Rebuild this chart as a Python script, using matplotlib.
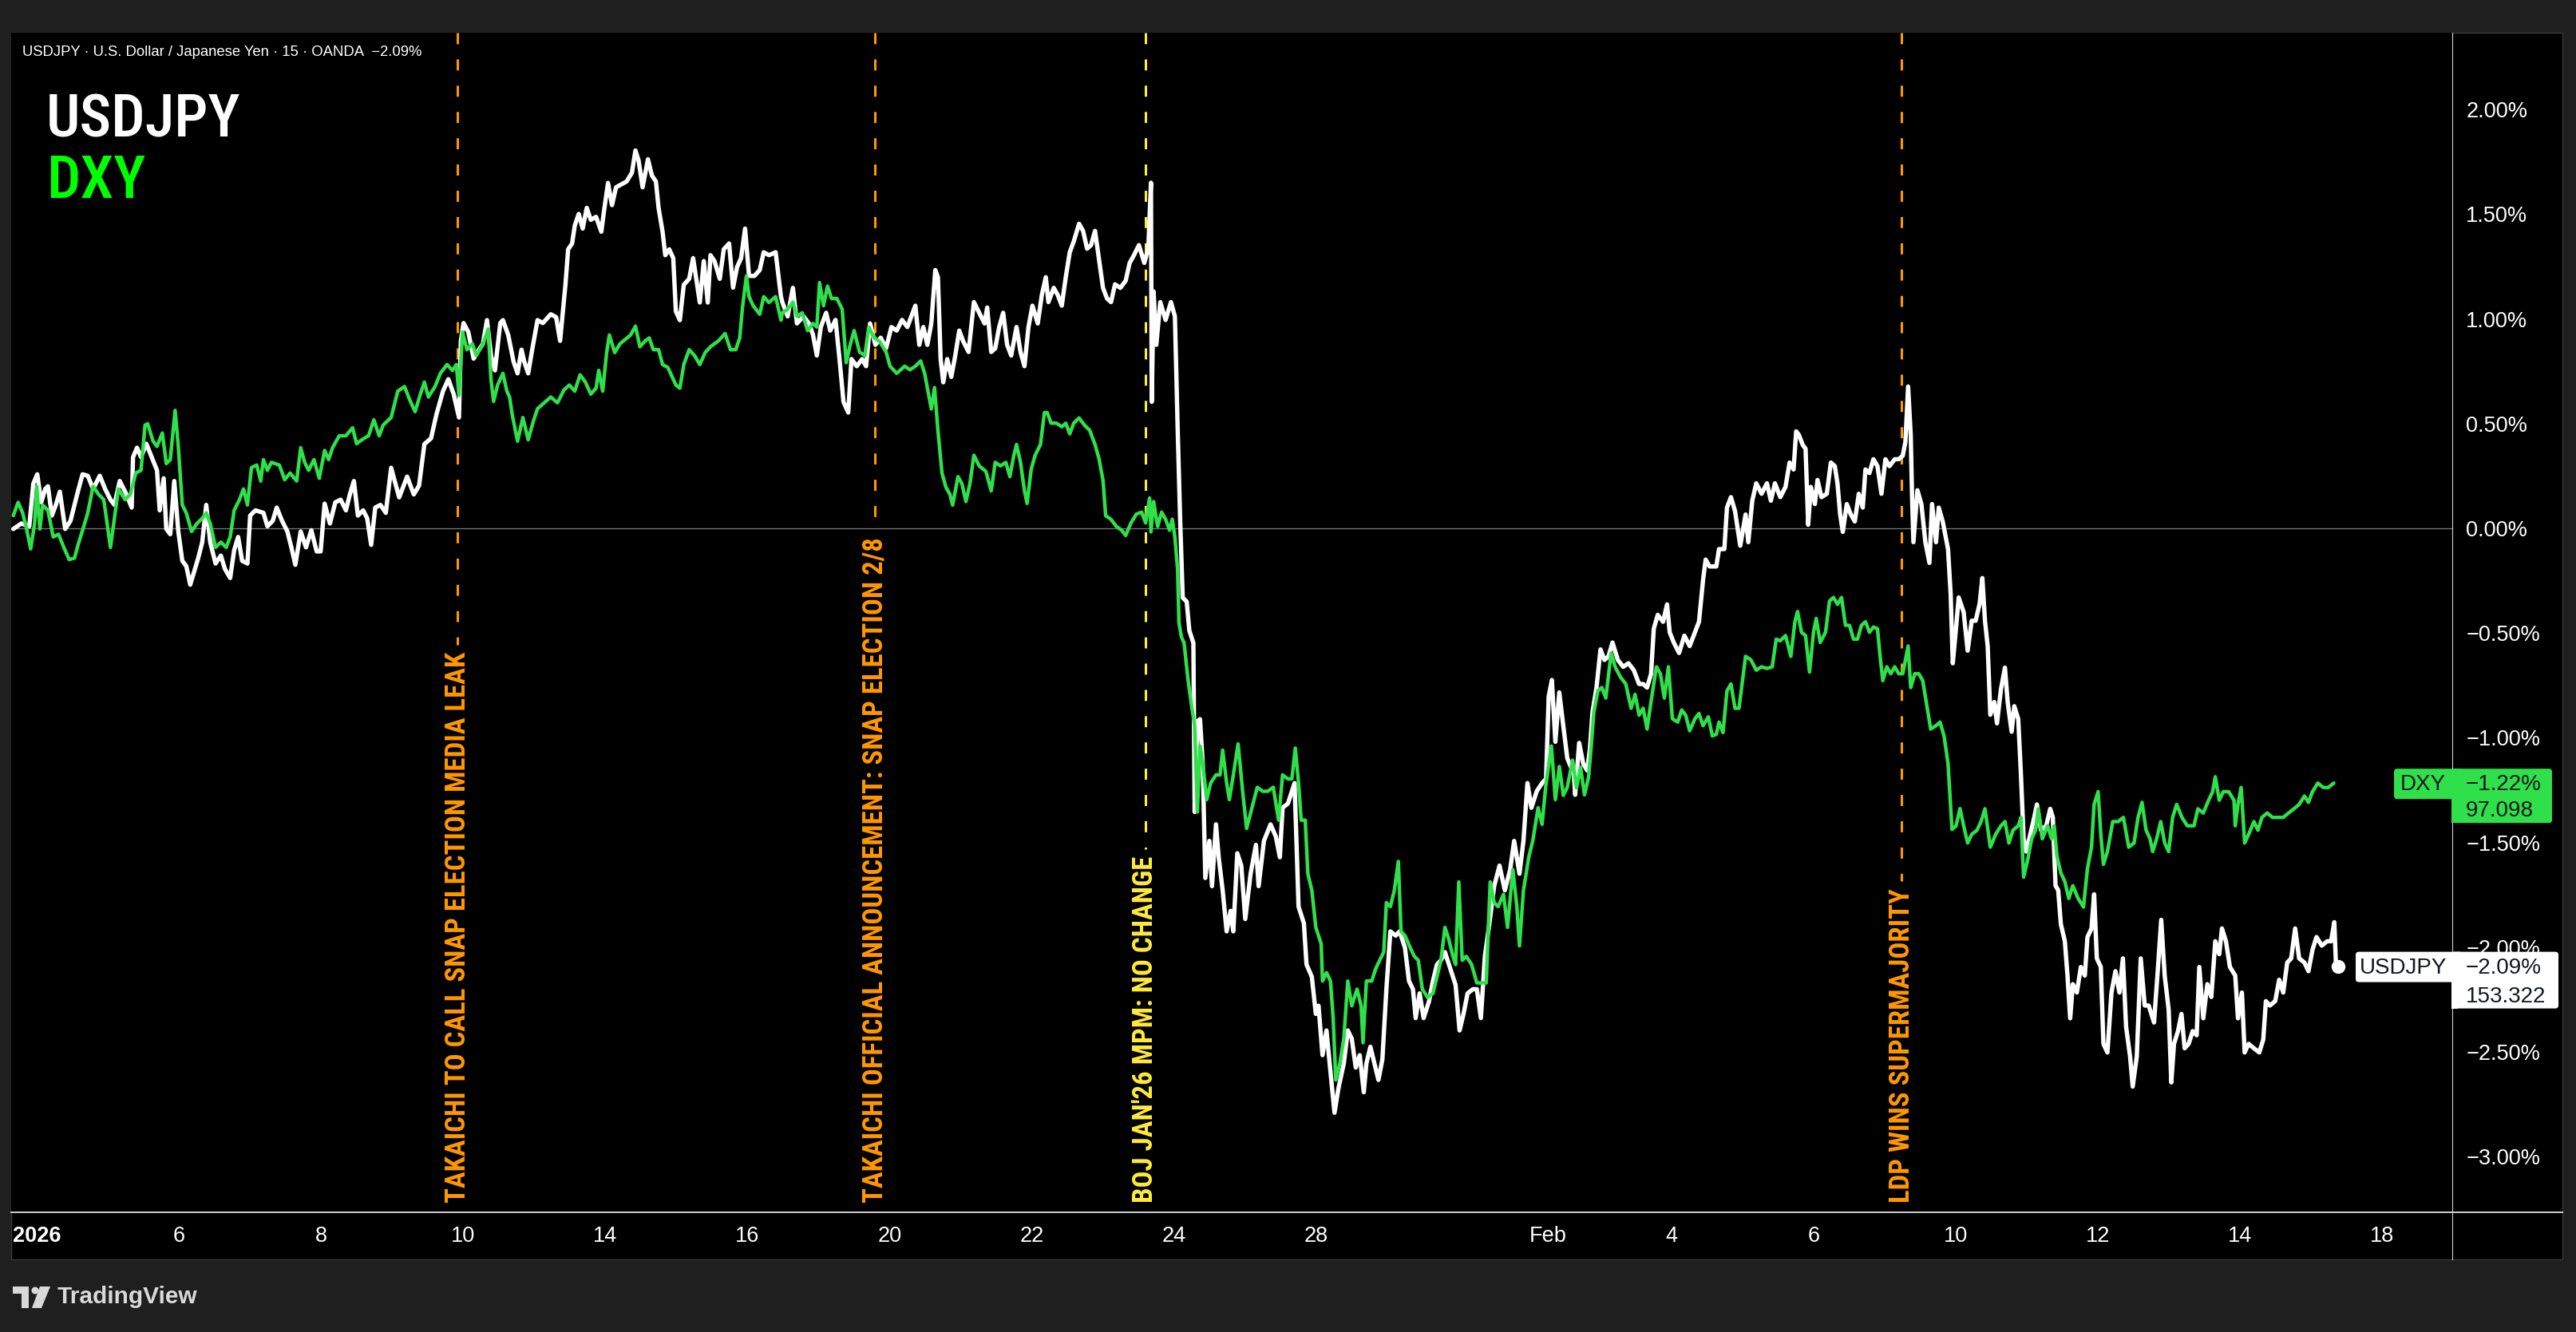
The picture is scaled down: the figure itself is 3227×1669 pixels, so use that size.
import numpy as np
import matplotlib
matplotlib.use("Agg")
import matplotlib.pyplot as plt
from matplotlib.patches import Rectangle, FancyBboxPatch, Polygon, Circle
from matplotlib.transforms import IdentityTransform, blended_transform_factory

plt.rcParams['lines.scale_dashes'] = False
plt.rcParams['font.family'] = ['Liberation Sans', 'DejaVu Sans']
COND = ['Roboto Condensed', 'Liberation Sans Narrow', 'DejaVu Sans']

W, H, DPI = 3227, 1669, 100

# ---------------- data (x = trading-day index since 2 Jan 2026, y = % change) -------------
usdjpy_points = [
    (-0.333, -0.003), (-0.221, 0.023), (-0.108, 0.010), (-0.052, 0.213), (0.004, 0.258), (0.060, 0.124),
    (0.116, 0.188), (0.154, 0.201), (0.210, 0.061), (0.266, 0.112), (0.322, 0.175), (0.397, -0.003),
    (0.472, 0.036), (0.566, 0.163), (0.641, 0.258), (0.715, 0.251), (0.790, 0.188), (0.884, 0.251),
    (0.959, 0.188), (1.034, 0.137), (1.090, 0.112), (1.165, 0.226), (1.258, 0.163), (1.333, 0.099),
    (1.352, 0.340), (1.408, 0.385), (1.464, 0.340), (1.539, 0.404), (1.614, 0.340), (1.689, 0.277),
    (1.727, 0.086), (1.783, 0.239), (1.820, -0.003), (1.876, -0.028), (1.932, 0.226), (1.989, -0.015),
    (2.045, -0.155), (2.101, -0.180), (2.157, -0.269), (2.213, -0.206), (2.269, -0.142), (2.326, -0.066),
    (2.382, 0.112), (2.438, -0.066), (2.513, -0.168), (2.588, -0.130), (2.644, -0.193), (2.719, -0.237),
    (2.775, -0.104), (2.831, -0.041), (2.887, -0.155), (2.962, -0.168), (3.000, 0.061), (3.075, 0.086),
    (3.187, 0.074), (3.243, 0.010), (3.318, 0.036), (3.374, 0.099), (3.449, 0.036), (3.524, -0.015),
    (3.580, -0.091), (3.636, -0.174), (3.711, -0.015), (3.786, -0.091), (3.861, -0.009), (3.936, -0.110),
    (3.992, -0.110), (4.048, 0.118), (4.123, 0.023), (4.198, 0.124), (4.273, 0.137), (4.348, 0.086),
    (4.404, 0.163), (4.460, 0.226), (4.516, 0.061), (4.591, 0.086), (4.647, 0.048), (4.703, -0.079),
    (4.760, 0.099), (4.834, 0.112), (4.909, 0.074),
    (4.984, 0.289), (5.097, 0.148), (5.209, 0.247), (5.303, 0.162), (5.377, 0.204), (5.452, 0.402),
    (5.546, 0.430), (5.621, 0.543), (5.714, 0.655), (5.789, 0.712), (5.864, 0.641), (5.939, 0.529),
    (5.965, 0.895), (6.003, 0.980), (6.070, 0.937), (6.145, 0.810), (6.220, 0.853), (6.276, 0.881),
    (6.333, 0.994), (6.389, 0.825), (6.445, 0.754), (6.520, 0.980), (6.557, 0.994), (6.632, 0.923),
    (6.707, 0.796), (6.763, 0.740), (6.819, 0.853), (6.857, 0.796), (6.913, 0.740), (6.969, 0.853),
    (7.044, 0.994), (7.119, 0.980), (7.231, 1.022), (7.306, 1.008), (7.362, 0.895), (7.437, 1.163),
    (7.475, 1.332), (7.531, 1.360), (7.568, 1.445), (7.624, 1.501), (7.680, 1.431), (7.737, 1.530),
    (7.793, 1.473), (7.868, 1.487), (7.942, 1.416), (7.980, 1.515), (8.036, 1.649), (8.092, 1.543),
    (8.149, 1.628), (8.224, 1.642), (8.298, 1.656), (8.373, 1.698), (8.422, 1.804), (8.467, 1.755),
    (8.523, 1.628), (8.598, 1.762), (8.654, 1.684), (8.710, 1.656), (8.748, 1.529), (8.804, 1.416),
    (8.842, 1.304), (8.898, 1.332), (8.954, 1.290), (8.991, 1.036), (9.047, 0.994), (9.103, 1.163),
    (9.178, 1.191), (9.234, 1.290), (9.291, 1.163), (9.328, 1.078), (9.384, 1.276), (9.440, 1.078),
    (9.478, 1.304), (9.534, 1.276), (9.609, 1.191), (9.665, 1.332), (9.740, 1.360), (9.796, 1.149),
    (9.852, 1.247), (9.909, 1.290), (9.965, 1.431), (10.021, 1.205), (10.096, 1.205), (10.171, 1.233),
    (10.227, 1.318), (10.301, 1.304), (10.395, 1.318), (10.470, 1.106),
    (10.489, 1.080), (10.564, 1.012), (10.638, 1.148), (10.695, 0.978), (10.788, 1.012), (10.863, 0.978),
    (10.919, 0.927), (10.975, 0.825), (11.031, 0.961), (11.106, 1.029), (11.163, 0.944), (11.238, 0.995),
    (11.294, 0.808), (11.350, 0.604), (11.417, 0.553), (11.462, 0.808), (11.537, 0.774), (11.612, 0.808),
    (11.668, 0.774), (11.724, 0.978), (11.799, 0.876), (11.874, 0.910), (11.949, 0.859), (12.024, 0.961),
    (12.099, 0.944), (12.174, 0.995), (12.249, 0.961), (12.323, 1.029), (12.361, 1.063), (12.417, 0.876),
    (12.473, 0.961), (12.530, 0.876), (12.586, 0.978), (12.642, 1.233), (12.679, 1.199), (12.717, 0.808),
    (12.754, 0.697), (12.810, 0.808), (12.867, 0.723), (12.923, 0.825), (12.979, 0.944), (13.035, 0.893),
    (13.110, 0.842), (13.185, 1.080), (13.260, 1.029), (13.335, 0.978), (13.372, 1.054), (13.429, 0.842),
    (13.485, 0.859), (13.541, 0.961), (13.597, 1.029), (13.653, 0.876), (13.710, 0.825), (13.785, 0.961),
    (13.841, 0.842), (13.897, 0.774), (13.953, 0.961), (14.009, 1.063), (14.084, 0.978), (14.141, 1.114),
    (14.197, 1.199), (14.234, 1.080), (14.309, 1.148), (14.365, 1.114), (14.422, 1.063), (14.478, 1.199),
    (14.534, 1.318), (14.590, 1.369), (14.665, 1.454), (14.722, 1.420), (14.778, 1.335), (14.834, 1.352),
    (14.890, 1.420), (14.946, 1.284), (15.002, 1.148), (15.059, 1.097), (15.115, 1.080), (15.171, 1.165),
    (15.246, 1.148), (15.321, 1.182), (15.377, 1.267), (15.433, 1.301), (15.508, 1.352), (15.583, 1.267),
    (15.639, 1.335), (15.677, 1.650), (15.688, 0.604), (15.714, 1.131), (15.752, 0.876), (15.808, 1.080),
    (15.883, 0.995), (15.958, 1.080), (16.014, 1.012), (16.052, 0.485), (16.089, 0.026),
    (16.124, -0.331), (16.180, -0.350), (16.217, -0.488), (16.274, -0.547), (16.292, -1.354), (16.330, -0.921),
    (16.367, -0.911), (16.405, -1.118), (16.442, -1.669), (16.499, -1.492), (16.536, -1.708), (16.592, -1.413),
    (16.630, -1.570), (16.686, -1.728), (16.742, -1.924), (16.798, -1.826), (16.836, -1.924), (16.892, -1.551),
    (16.948, -1.610), (17.004, -1.865), (17.079, -1.649), (17.154, -1.511), (17.192, -1.708), (17.267, -1.492),
    (17.360, -1.413), (17.435, -1.472), (17.491, -1.570), (17.529, -1.334), (17.604, -1.314), (17.698, -1.216),
    (17.754, -1.806), (17.829, -1.885), (17.866, -2.082), (17.941, -2.141), (17.997, -2.318), (18.035, -2.279),
    (18.091, -2.515), (18.147, -2.397), (18.203, -2.594), (18.260, -2.790), (18.316, -2.672), (18.391, -2.554),
    (18.447, -2.397), (18.503, -2.436), (18.559, -2.574), (18.615, -2.515), (18.672, -2.692), (18.709, -2.554),
    (18.765, -2.475), (18.821, -2.554), (18.878, -2.633), (18.934, -2.534), (18.990, -2.200), (19.046, -1.924),
    (19.121, -1.944), (19.177, -1.924), (19.252, -2.003), (19.308, -2.161), (19.364, -2.200), (19.402, -2.338),
    (19.458, -2.220), (19.514, -2.338), (19.589, -2.259), (19.645, -2.161), (19.702, -2.082), (19.758, -2.062),
    (19.814, -2.023), (19.889, -2.102), (19.964, -2.180), (20.020, -2.397), (20.076, -2.318), (20.132, -2.220),
    (20.207, -2.200), (20.263, -2.200), (20.320, -2.338), (20.376, -2.043), (20.432, -1.905), (20.507, -1.708),
    (20.582, -1.610), (20.657, -1.728), (20.732, -1.629), (20.788, -1.492), (20.863, -1.649), (20.919, -1.492),
    (20.975, -1.216), (21.031, -1.334), (21.106, -1.255), (21.181, -1.216), (21.237, -1.196), (21.274, -0.803),
    (21.319, -0.724), (21.368, -1.019), (21.423, -0.783), (21.479, -0.941), (21.536, -1.098),
    (21.628, -1.173), (21.647, -1.272), (21.703, -1.024), (21.760, -1.123), (21.816, -1.156), (21.853, -1.057),
    (21.891, -0.876), (21.947, -0.760), (22.003, -0.578), (22.059, -0.628), (22.116, -0.611), (22.172, -0.545),
    (22.247, -0.628), (22.322, -0.661), (22.397, -0.644), (22.472, -0.677), (22.546, -0.743), (22.603, -0.743),
    (22.659, -0.760), (22.715, -0.694), (22.753, -0.479), (22.809, -0.413), (22.884, -0.446), (22.940, -0.363),
    (22.977, -0.496), (23.034, -0.545), (23.109, -0.595), (23.184, -0.512), (23.258, -0.562), (23.333, -0.496),
    (23.389, -0.446), (23.446, -0.248), (23.483, -0.149), (23.539, -0.182), (23.633, -0.182), (23.671, -0.099),
    (23.746, -0.099), (23.783, 0.099), (23.839, 0.149), (23.896, 0.083), (23.970, -0.083), (24.045, 0.066),
    (24.083, -0.066), (24.139, 0.132), (24.195, 0.215), (24.270, 0.165), (24.345, 0.215), (24.401, 0.132),
    (24.458, 0.215), (24.533, 0.149), (24.607, 0.198), (24.664, 0.314), (24.720, 0.281), (24.757, 0.463),
    (24.795, 0.446), (24.851, 0.397), (24.889, 0.380), (24.926, 0.017), (24.963, 0.198), (25.020, 0.116),
    (25.057, 0.231), (25.113, 0.149), (25.188, 0.165), (25.245, 0.314), (25.301, 0.297), (25.338, 0.215),
    (25.376, 0.066), (25.413, -0.017), (25.469, 0.116), (25.526, 0.066), (25.582, 0.033), (25.638, 0.165),
    (25.694, 0.099), (25.732, 0.281), (25.788, 0.264), (25.844, 0.330), (25.901, 0.297), (25.957, 0.165),
    (26.013, 0.330), (26.069, 0.297), (26.144, 0.330), (26.201, 0.330), (26.257, 0.347), (26.294, 0.413),
    (26.332, 0.677), (26.369, 0.446), (26.388, 0.149), (26.407, -0.066), (26.463, 0.182), (26.519, 0.116),
    (26.575, -0.066), (26.632, -0.165), (26.669, 0.116), (26.725, -0.066), (26.763, 0.099), (26.819, 0.033),
    (26.894, -0.099), (26.931, -0.314), (26.961, -0.644), (27.006, -0.479), (27.044, -0.330),
    (27.114, -0.400), (27.170, -0.584), (27.227, -0.441), (27.283, -0.441), (27.339, -0.359), (27.377, -0.237),
    (27.414, -0.441), (27.452, -0.563), (27.489, -0.890), (27.545, -0.829), (27.583, -0.931), (27.639, -0.767),
    (27.695, -0.665), (27.733, -0.829), (27.789, -0.971), (27.826, -0.849), (27.882, -0.910), (27.920, -1.176),
    (27.958, -1.482), (27.995, -1.543), (28.051, -1.461), (28.107, -1.380), (28.145, -1.318), (28.201, -1.441),
    (28.276, -1.420), (28.332, -1.339), (28.369, -1.380), (28.407, -1.706), (28.444, -1.727), (28.482, -1.890),
    (28.538, -1.971), (28.575, -2.135), (28.613, -2.339), (28.650, -2.176), (28.707, -2.216), (28.763, -2.094),
    (28.819, -2.135), (28.856, -1.951), (28.913, -1.910), (28.950, -1.747), (28.988, -2.053), (29.044, -2.094),
    (29.081, -2.461), (29.137, -2.502), (29.194, -2.216), (29.250, -2.114), (29.306, -2.216), (29.355, -2.053),
    (29.400, -2.380), (29.456, -2.522), (29.493, -2.665), (29.550, -2.522), (29.606, -2.053), (29.662, -2.278),
    (29.718, -2.278), (29.793, -2.359), (29.849, -2.094), (29.894, -1.869), (29.943, -2.135), (29.999, -2.298),
    (30.036, -2.645), (30.074, -2.461), (30.130, -2.400), (30.179, -2.318), (30.224, -2.482), (30.280, -2.461),
    (30.337, -2.400), (30.393, -2.420), (30.430, -2.094), (30.486, -2.339), (30.543, -2.176), (30.599, -2.237),
    (30.655, -1.971), (30.711, -2.033), (30.749, -1.910), (30.805, -1.971), (30.861, -2.094), (30.936, -2.135),
    (30.974, -2.339), (31.030, -2.216), (31.068, -2.502), (31.124, -2.461), (31.199, -2.482), (31.274, -2.502),
    (31.330, -2.441), (31.367, -2.257), (31.423, -2.278), (31.498, -2.257), (31.554, -2.155), (31.611, -2.216),
    (31.667, -2.073), (31.723, -2.053), (31.779, -1.910), (31.835, -2.053), (31.910, -2.073), (31.966, -2.114),
    (32.023, -2.012), (32.079, -1.951), (32.154, -1.992), (32.229, -1.971), (32.285, -1.971), (32.330, -1.880),
    (32.352, -2.073), (32.378, -2.090),
]

dxy_points = [
    (-0.333, 0.061), (-0.265, 0.124), (-0.202, 0.074), (-0.146, -0.003), (-0.089, -0.098), (-0.033, 0.023),
    (-0.003, 0.201), (0.041, -0.003), (0.079, 0.112), (0.154, 0.086), (0.229, -0.041), (0.303, -0.028),
    (0.378, -0.091), (0.453, -0.149), (0.528, -0.142), (0.584, -0.072), (0.659, 0.010), (0.715, 0.074),
    (0.790, 0.201), (0.865, 0.163), (0.940, 0.137), (1.034, -0.091), (1.090, 0.048), (1.146, 0.188),
    (1.240, 0.137), (1.315, 0.163), (1.390, 0.264), (1.464, 0.277), (1.521, 0.493), (1.558, 0.499),
    (1.633, 0.417), (1.689, 0.391), (1.764, 0.455), (1.820, 0.309), (1.876, 0.328), (1.944, 0.563),
    (1.989, 0.391), (2.045, 0.112), (2.101, 0.074), (2.176, -0.015), (2.251, 0.023), (2.326, 0.048),
    (2.382, 0.074), (2.438, 0.023), (2.513, -0.091), (2.588, -0.066), (2.663, -0.091), (2.719, -0.041),
    (2.775, 0.086), (2.850, 0.137), (2.906, 0.188), (2.962, 0.112), (3.018, 0.290), (3.093, 0.302),
    (3.149, 0.226), (3.187, 0.328), (3.243, 0.277), (3.299, 0.315), (3.411, 0.302), (3.486, 0.232),
    (3.561, 0.264), (3.655, 0.226), (3.711, 0.385), (3.767, 0.315), (3.823, 0.277), (3.898, 0.328),
    (3.973, 0.239), (4.048, 0.372), (4.104, 0.328), (4.160, 0.385), (4.254, 0.442), (4.348, 0.442),
    (4.441, 0.480), (4.498, 0.404), (4.572, 0.423), (4.666, 0.442), (4.741, 0.518), (4.816, 0.442),
    (4.872, 0.493),
    (4.984, 0.529), (5.078, 0.655), (5.172, 0.677), (5.246, 0.613), (5.321, 0.557), (5.396, 0.641),
    (5.452, 0.698), (5.508, 0.627), (5.602, 0.677), (5.677, 0.740), (5.771, 0.782), (5.846, 0.754),
    (5.902, 0.782), (5.939, 0.634), (5.988, 0.937), (6.051, 0.853), (6.126, 0.881), (6.183, 0.825),
    (6.276, 0.881), (6.351, 0.951), (6.389, 0.712), (6.426, 0.606), (6.482, 0.684), (6.557, 0.740),
    (6.613, 0.655), (6.651, 0.627), (6.688, 0.543), (6.763, 0.416), (6.838, 0.529), (6.913, 0.423),
    (6.988, 0.514), (7.044, 0.571), (7.138, 0.599), (7.231, 0.627), (7.325, 0.599), (7.418, 0.662),
    (7.493, 0.684), (7.568, 0.655), (7.643, 0.733), (7.718, 0.698), (7.793, 0.641), (7.868, 0.669),
    (7.905, 0.754), (7.961, 0.655), (8.017, 0.839), (8.055, 0.923), (8.130, 0.839), (8.205, 0.881),
    (8.280, 0.902), (8.354, 0.923), (8.422, 0.965), (8.485, 0.867), (8.560, 0.895), (8.617, 0.909),
    (8.673, 0.853), (8.748, 0.853), (8.804, 0.782), (8.879, 0.768), (8.935, 0.726), (8.991, 0.684),
    (9.047, 0.669), (9.103, 0.782), (9.178, 0.853), (9.253, 0.825), (9.328, 0.782), (9.403, 0.839),
    (9.478, 0.867), (9.590, 0.895), (9.684, 0.930), (9.759, 0.853), (9.834, 0.853), (9.890, 0.909),
    (9.927, 1.050), (9.984, 1.205), (10.021, 1.106), (10.077, 1.064), (10.171, 1.022), (10.227, 1.106),
    (10.301, 1.078), (10.395, 1.106), (10.470, 0.994),
    (10.489, 1.029), (10.564, 1.046), (10.638, 1.080), (10.695, 1.012), (10.770, 1.029), (10.845, 0.944),
    (10.919, 0.978), (10.975, 0.961), (11.013, 1.173), (11.069, 1.063), (11.125, 1.156), (11.182, 1.097),
    (11.257, 1.097), (11.332, 1.046), (11.388, 0.791), (11.444, 0.876), (11.500, 0.944), (11.575, 0.842),
    (11.650, 0.825), (11.706, 0.961), (11.781, 0.910), (11.856, 0.893), (11.949, 0.842), (12.005, 0.774),
    (12.099, 0.740), (12.211, 0.774), (12.286, 0.757), (12.361, 0.774), (12.436, 0.799), (12.492, 0.740),
    (12.548, 0.638), (12.586, 0.570), (12.631, 0.672), (12.679, 0.468), (12.736, 0.264), (12.792, 0.196),
    (12.848, 0.162), (12.886, 0.111), (12.961, 0.247), (13.017, 0.213), (13.073, 0.128), (13.129, 0.213),
    (13.185, 0.349), (13.260, 0.298), (13.354, 0.272), (13.429, 0.179), (13.485, 0.315), (13.560, 0.298),
    (13.635, 0.315), (13.691, 0.247), (13.748, 0.349), (13.785, 0.400), (13.841, 0.315), (13.897, 0.179),
    (13.934, 0.119), (13.991, 0.281), (14.047, 0.349), (14.122, 0.400), (14.178, 0.553), (14.216, 0.553),
    (14.272, 0.502), (14.347, 0.502), (14.422, 0.485), (14.478, 0.502), (14.534, 0.451), (14.590, 0.502),
    (14.665, 0.527), (14.740, 0.493), (14.815, 0.468), (14.890, 0.400), (14.946, 0.332), (15.002, 0.230),
    (15.040, 0.060), (15.115, 0.043), (15.190, 0.009), (15.265, -0.009), (15.321, -0.034), (15.396, 0.026),
    (15.471, 0.068), (15.546, 0.077), (15.602, 0.026), (15.658, 0.145), (15.677, -0.017), (15.714, 0.128),
    (15.771, 0.009), (15.827, 0.077), (15.883, 0.043), (15.939, -0.009), (15.977, 0.043), (16.014, -0.043),
    (16.052, -0.196), (16.071, -0.451),
    (16.105, -0.518), (16.143, -0.547), (16.199, -0.724), (16.255, -0.862), (16.292, -0.941), (16.330, -1.354),
    (16.367, -1.039), (16.405, -1.118), (16.461, -1.295), (16.517, -1.216), (16.592, -1.177), (16.649, -1.177),
    (16.686, -1.059), (16.742, -1.216), (16.780, -1.295), (16.836, -1.177), (16.903, -1.029), (16.967, -1.255),
    (17.023, -1.433), (17.098, -1.334), (17.173, -1.236), (17.248, -1.255), (17.323, -1.255), (17.398, -1.236),
    (17.473, -1.393), (17.529, -1.177), (17.604, -1.196), (17.660, -1.196), (17.708, -1.049), (17.754, -1.216),
    (17.791, -1.393), (17.848, -1.393), (17.885, -1.649), (17.941, -1.728), (17.997, -1.905), (18.072, -1.983),
    (18.091, -2.161), (18.147, -2.121), (18.203, -2.161), (18.241, -2.338), (18.278, -2.633), (18.335, -2.554),
    (18.391, -2.436), (18.447, -2.161), (18.503, -2.279), (18.578, -2.200), (18.634, -2.279), (18.661, -2.456),
    (18.709, -2.161), (18.784, -2.161), (18.840, -2.102), (18.896, -2.062), (18.953, -2.023), (18.990, -1.787),
    (19.046, -1.806), (19.102, -1.728), (19.158, -1.590), (19.196, -1.924), (19.252, -1.944), (19.327, -2.003),
    (19.383, -2.043), (19.439, -2.062), (19.496, -2.200), (19.570, -2.239), (19.645, -2.220), (19.702, -2.141),
    (19.758, -2.062), (19.814, -1.905), (19.870, -1.964), (19.926, -2.043), (19.964, -2.082), (20.009, -1.688),
    (20.057, -2.062), (20.114, -2.043), (20.189, -2.082), (20.263, -2.170), (20.338, -2.170), (20.395, -2.170),
    (20.451, -1.688), (20.507, -1.787), (20.563, -1.806), (20.638, -1.747), (20.695, -1.905), (20.770, -1.629),
    (20.826, -1.806), (20.863, -1.993), (20.919, -1.728), (20.994, -1.570), (21.050, -1.492), (21.125, -1.334),
    (21.181, -1.413), (21.237, -1.216), (21.312, -1.039), (21.368, -1.295), (21.424, -1.137), (21.480, -1.275),
    (21.536, -1.236),
    (21.610, -1.107), (21.666, -1.239), (21.722, -1.140), (21.778, -1.272), (21.835, -1.189), (21.872, -1.041),
    (21.910, -0.876), (21.966, -0.776), (22.022, -0.760), (22.078, -0.810), (22.153, -0.595), (22.209, -0.661),
    (22.284, -0.710), (22.359, -0.743), (22.434, -0.859), (22.490, -0.793), (22.546, -0.892), (22.603, -0.859),
    (22.659, -0.958), (22.715, -0.826), (22.790, -0.661), (22.846, -0.694), (22.902, -0.810), (22.959, -0.661),
    (23.015, -0.909), (23.090, -0.925), (23.146, -0.867), (23.202, -0.892), (23.258, -0.966), (23.333, -0.909),
    (23.389, -0.884), (23.446, -0.942), (23.521, -0.900), (23.577, -0.991), (23.633, -0.983), (23.671, -0.925),
    (23.727, -0.975), (23.783, -0.776), (23.839, -0.743), (23.896, -0.859), (23.952, -0.859), (23.989, -0.760),
    (24.045, -0.611), (24.120, -0.628), (24.195, -0.677), (24.270, -0.661), (24.345, -0.669), (24.420, -0.661),
    (24.476, -0.529), (24.533, -0.537), (24.607, -0.512), (24.682, -0.611), (24.739, -0.446), (24.776, -0.397),
    (24.832, -0.496), (24.889, -0.512), (24.945, -0.686), (25.001, -0.496), (25.039, -0.430), (25.095, -0.545),
    (25.170, -0.496), (25.226, -0.347), (25.282, -0.330), (25.339, -0.363), (25.395, -0.330), (25.451, -0.463),
    (25.507, -0.463), (25.564, -0.529), (25.620, -0.529), (25.676, -0.463), (25.732, -0.446), (25.788, -0.496),
    (25.845, -0.471), (25.901, -0.479), (25.938, -0.611), (25.976, -0.727), (26.032, -0.661), (26.088, -0.694),
    (26.144, -0.661), (26.201, -0.694), (26.257, -0.694), (26.332, -0.562), (26.369, -0.760), (26.426, -0.694),
    (26.482, -0.694), (26.538, -0.727), (26.594, -0.843), (26.650, -0.958), (26.725, -0.942), (26.781, -0.925),
    (26.838, -0.991), (26.894, -1.123), (26.950, -1.437), (27.006, -1.421), (27.062, -1.338),
    (27.114, -1.420), (27.170, -1.502), (27.227, -1.461), (27.302, -1.441), (27.358, -1.400), (27.414, -1.339),
    (27.489, -1.522), (27.564, -1.461), (27.639, -1.420), (27.695, -1.400), (27.751, -1.502), (27.808, -1.441),
    (27.882, -1.420), (27.920, -1.380), (27.958, -1.665), (28.014, -1.584), (28.070, -1.482), (28.126, -1.441),
    (28.164, -1.339), (28.220, -1.482), (28.295, -1.420), (28.351, -1.482), (28.388, -1.420), (28.426, -1.563),
    (28.482, -1.645), (28.538, -1.686), (28.594, -1.767), (28.650, -1.706), (28.725, -1.767), (28.800, -1.808),
    (28.856, -1.624), (28.913, -1.522), (28.950, -1.318), (29.006, -1.257), (29.044, -1.461), (29.081, -1.604),
    (29.137, -1.543), (29.212, -1.400), (29.287, -1.400), (29.362, -1.380), (29.437, -1.522), (29.512, -1.502),
    (29.568, -1.380), (29.624, -1.308), (29.681, -1.441), (29.737, -1.482), (29.774, -1.543), (29.830, -1.482),
    (29.887, -1.400), (29.943, -1.502), (29.999, -1.543), (30.055, -1.380), (30.111, -1.318), (30.186, -1.380),
    (30.261, -1.420), (30.355, -1.420), (30.411, -1.339), (30.486, -1.359), (30.561, -1.298), (30.618, -1.257),
    (30.655, -1.186), (30.711, -1.298), (30.768, -1.257), (30.843, -1.257), (30.918, -1.298), (30.936, -1.420),
    (30.974, -1.318), (31.019, -1.237), (31.068, -1.502), (31.124, -1.461), (31.199, -1.400), (31.255, -1.441),
    (31.311, -1.380), (31.386, -1.359), (31.461, -1.380), (31.536, -1.380), (31.611, -1.380), (31.686, -1.359),
    (31.761, -1.339), (31.835, -1.318), (31.910, -1.278), (31.966, -1.308), (32.023, -1.257), (32.098, -1.216),
    (32.173, -1.237), (32.247, -1.237), (32.322, -1.216),
]

usdjpy_last_price = 153.322
dxy_last_price = 97.098

event_t = [5.92, 11.79, 15.60, 26.24]
event_labels = [
    "TAKAICHI TO CALL SNAP ELECTION MEDIA LEAK",
    "TAKAICHI OFFICIAL ANNOUNCEMENT: SNAP ELECTION 2/8",
    "BOJ JAN'26 MPM: NO CHANGE",
    "LDP WINS SUPERMAJORITY",
]
event_colors = ['#FF9800', '#FF9800', '#FFEB3B', '#FF9800']

xtick_pos = [0, 2, 4, 6, 8, 10, 12, 14, 16, 18, 21.26, 23, 25, 27, 29, 31, 33]
xtick_labels = ['2026', '6', '8', '10', '14', '16', '20', '22', '24', '28', 'Feb', '4', '6', '10', '12', '14', '18']
ytick_vals = [2.0, 1.5, 1.0, 0.5, 0.0, -0.5, -1.0, -1.5, -2.0, -2.5, -3.0]

# ---------------- figure ----------------
fig = plt.figure(figsize=(W / DPI, H / DPI), dpi=DPI)
fig.patch.set_facecolor('#1f1f1f')


def fx(px):
    return px / W


def fy(py):
    return 1 - py / H


fig.add_artist(Rectangle((fx(14), fy(1578)), fx(3210) - fx(14), fy(41) - fy(1578),
                         transform=fig.transFigure, facecolor='black', edgecolor='#3a3a3a',
                         lw=1, zorder=-1))

ax = fig.add_axes([fx(14), fy(1519), fx(3072) - fx(14), fy(41) - fy(1519)])
ax.set_facecolor('black')
for s in ax.spines.values():
    s.set_visible(False)
ax.set_xlim(-0.363, 33.99)
ax.set_ylim(-3.265, 2.366)

ax.yaxis.tick_right()
ax.set_yticks(ytick_vals)
ax.set_yticklabels([f"{v:.2f}%".replace('-', '\u2212') for v in ytick_vals])
ax.set_xticks(xtick_pos)
ax.set_xticklabels(xtick_labels)
ax.tick_params(axis='y', length=0, pad=12.5, labelsize=19.5, labelcolor='white')
ax.tick_params(axis='x', length=0, pad=12.5, labelsize=19.5, labelcolor='white')
ax.get_xticklabels()[0].set_fontweight('bold')

ax.axhline(0, color='#7a7a7a', lw=0.9, zorder=1)

ut, uv = zip(*usdjpy_points)
dt, dv = zip(*dxy_points)
ax.plot(ut, uv, color='white', lw=3.9, solid_joinstyle='round', solid_capstyle='round', zorder=4)
ax.plot(dt, dv, color='#2fe04b', lw=3.2, solid_joinstyle='round', solid_capstyle='round', zorder=5)
ax.plot([ut[-1]], [uv[-1]], 'o', color='white', ms=11.5, zorder=6)

# event annotations
btrans = blended_transform_factory(ax.transData, ax.transAxes)
ev_texts = []
for t, lab, col in zip(event_t, event_labels, event_colors):
    tx = ax.text(t, 0.0081, lab, transform=btrans, rotation=90, ha='center', va='bottom',
                 fontsize=25, fontweight='bold', family=COND, fontstretch='condensed',
                 color=col, zorder=3)
    ev_texts.append(tx)

fig.canvas.draw()
for t, tx, col in zip(event_t, ev_texts, event_colors):
    bb = tx.get_window_extent()
    top = ax.transAxes.inverted().transform((0, bb.y1))[1] + 0.006
    ax.plot([t, t], [1.0, top], transform=btrans, color=col, lw=2.2,
            dashes=[10, 13.7], zorder=2, solid_capstyle='butt')

# separators
fig.add_artist(plt.Line2D([fx(14), fx(3210)], [fy(1519), fy(1519)], transform=fig.transFigure,
                          color='#cfcfcf', lw=1.4, zorder=5))
fig.add_artist(plt.Line2D([fx(3071.5), fx(3071.5)], [fy(41), fy(1578)], transform=fig.transFigure,
                          color='#cfcfcf', lw=0.8, zorder=5))

# header texts
fig.text(fx(28), fy(65), "USDJPY \u00b7 U.S. Dollar / Japanese Yen \u00b7 15 \u00b7 OANDA  \u22122.09%",
         color='white', fontsize=13.3, va='center', ha='left')
fig.text(fx(58), fy(172), "USDJPY", color='white', fontsize=54, family=COND, fontweight='medium',
         fontstretch='condensed', va='baseline', ha='left')
fig.text(fx(58), fy(248), "DXY", color='#00ff00', fontsize=54, family=COND, fontweight='medium',
         fontstretch='condensed', va='baseline', ha='left')


# price labels on the right scale
def price_box(value, name, price, bg, left_px, right_px, row2):
    c = H - ax.transData.transform((0, value))[1]
    idt = IdentityTransform()
    fig.add_artist(FancyBboxPatch((left_px, H - (c + 20)), 3085 - left_px, 38,
                                  boxstyle='round,pad=0,rounding_size=4', transform=idt,
                                  fc=bg, ec='none', zorder=6))
    fig.add_artist(FancyBboxPatch((3071, H - (c + row2 + 17)), right_px - 3071, row2 + 35,
                                  boxstyle='round,pad=0,rounding_size=4', transform=idt,
                                  fc=bg, ec='none', zorder=6))
    fig.add_artist(Rectangle((3071, H - (c + row2 + 17)), 8, row2 + 35, transform=idt,
                             fc=bg, ec='none', zorder=6))
    fig.text(fx((left_px + 3071) / 2), fy(c + 2), name, color='#131722', fontsize=20,
             ha='center', va='center', zorder=7)
    fig.text(fx(3089), fy(c + 2), f"{value:.2f}%".replace('-', '\u2212'), color='#131722',
             fontsize=20, ha='left', va='center', zorder=7)
    fig.text(fx(3089), fy(c + row2 + 2), f"{price:.3f}", color='#131722', fontsize=20,
             ha='left', va='center', zorder=7)


price_box(dv[-1], 'DXY', dxy_last_price, '#2fe04b', 2999, 3197, 33)
price_box(uv[-1], 'USDJPY', usdjpy_last_price, 'white', 2951, 3205, 36)

# TradingView footer
idt = IdentityTransform()
logo_c = '#d9d9d9'
fig.add_artist(Rectangle((16, H - 1621), 20, 9, transform=idt, fc=logo_c, ec='none', zorder=5))
fig.add_artist(Rectangle((27, H - 1639), 9, 27, transform=idt, fc=logo_c, ec='none', zorder=5))
fig.add_artist(Circle((44, H - 1617), 4.5, transform=idt, fc=logo_c, ec='none', zorder=5))
fig.add_artist(Polygon([(50, H - 1612), (63, H - 1612), (52, H - 1639), (40, H - 1639)],
                       closed=True, transform=idt, fc=logo_c, ec='none', zorder=5))
fig.text(fx(72), fy(1625), "TradingView", color=logo_c, fontsize=21.5, fontweight='bold',
         ha='left', va='center')

fig.savefig('out.png', dpi=DPI, facecolor=fig.get_facecolor())
